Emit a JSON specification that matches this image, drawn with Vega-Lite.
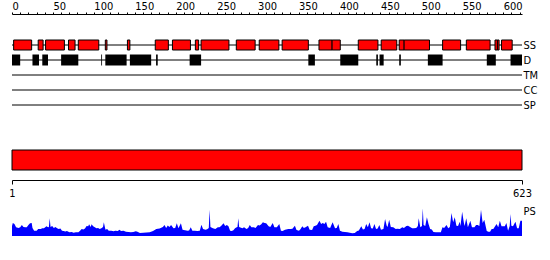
{
  "$schema": "https://vega.github.io/schema/vega-lite/v6.json",
  "background": "white",
  "padding": {"left": 8, "top": 0, "right": 0, "bottom": 0},
  "spacing": 36,
  "bounds": "flush",
  "config": {
    "view": {"stroke": null},
    "font": "DejaVu Sans Condensed, DejaVu Sans",
    "axis": {"labelColor": "black", "domainColor": "black", "tickColor": "black", "labelFont": "DejaVu Sans Condensed, DejaVu Sans", "grid": false, "title": null}
  },
  "datasets": {
    "tracks": [{"track": "SS"}, {"track": "D"}, {"track": "TM"}, {"track": "CC"}, {"track": "SP"}],
    "segments": [
      {"track": "SS", "start": 2, "end": 24}, {"track": "SS", "start": 32, "end": 38}, {"track": "SS", "start": 41, "end": 64},
      {"track": "SS", "start": 69, "end": 77}, {"track": "SS", "start": 81, "end": 106}, {"track": "SS", "start": 114, "end": 116},
      {"track": "SS", "start": 141, "end": 144}, {"track": "SS", "start": 175, "end": 191}, {"track": "SS", "start": 196, "end": 218},
      {"track": "SS", "start": 224, "end": 228}, {"track": "SS", "start": 231, "end": 265}, {"track": "SS", "start": 274, "end": 297},
      {"track": "SS", "start": 302, "end": 326}, {"track": "SS", "start": 330, "end": 362}, {"track": "SS", "start": 375, "end": 391},
      {"track": "SS", "start": 391, "end": 401}, {"track": "SS", "start": 423, "end": 447}, {"track": "SS", "start": 451, "end": 470},
      {"track": "SS", "start": 473, "end": 479}, {"track": "SS", "start": 479, "end": 510}, {"track": "SS", "start": 526, "end": 548},
      {"track": "SS", "start": 555, "end": 584}, {"track": "SS", "start": 590, "end": 593}, {"track": "SS", "start": 593, "end": 595},
      {"track": "SS", "start": 598, "end": 611},
      {"track": "D", "start": 0, "end": 10}, {"track": "D", "start": 25, "end": 33}, {"track": "D", "start": 37, "end": 44},
      {"track": "D", "start": 60, "end": 81}, {"track": "D", "start": 109, "end": 110}, {"track": "D", "start": 114, "end": 140},
      {"track": "D", "start": 144, "end": 170}, {"track": "D", "start": 176, "end": 178}, {"track": "D", "start": 217, "end": 231},
      {"track": "D", "start": 362, "end": 370}, {"track": "D", "start": 401, "end": 423}, {"track": "D", "start": 445, "end": 447},
      {"track": "D", "start": 449, "end": 454}, {"track": "D", "start": 473, "end": 475}, {"track": "D", "start": 508, "end": 526},
      {"track": "D", "start": 580, "end": 591}, {"track": "D", "start": 609, "end": 623}
    ],
    "seq": [{"start": 1, "end": 623}],
    "ps": [
      {"pos": 1, "score": 10}, {"pos": 2, "score": 13}, {"pos": 4, "score": 12}, {"pos": 6, "score": 8.7}, {"pos": 9, "score": 8},
      {"pos": 11, "score": 8.7}, {"pos": 13, "score": 11}, {"pos": 15, "score": 9}, {"pos": 17, "score": 8.7}, {"pos": 19, "score": 8.7},
      {"pos": 21, "score": 11}, {"pos": 23, "score": 12.7}, {"pos": 25, "score": 13}, {"pos": 26, "score": 8}, {"pos": 28, "score": 5.3},
      {"pos": 31, "score": 5.3}, {"pos": 33, "score": 7}, {"pos": 36, "score": 7}, {"pos": 38, "score": 7.7}, {"pos": 40, "score": 7.7},
      {"pos": 43, "score": 9.7}, {"pos": 45, "score": 8.7}, {"pos": 46, "score": 9}, {"pos": 47, "score": 17.7}, {"pos": 48, "score": 9},
      {"pos": 50, "score": 10}, {"pos": 52, "score": 8}, {"pos": 54, "score": 9}, {"pos": 56, "score": 7.7}, {"pos": 58, "score": 7},
      {"pos": 60, "score": 7.5}, {"pos": 62, "score": 5.3}, {"pos": 64, "score": 5}, {"pos": 66, "score": 4.5}, {"pos": 68, "score": 5},
      {"pos": 71, "score": 3.7}, {"pos": 74, "score": 4}, {"pos": 76, "score": 3.2}, {"pos": 79, "score": 3.7}, {"pos": 82, "score": 3.7},
      {"pos": 84, "score": 5.3}, {"pos": 86, "score": 7}, {"pos": 88, "score": 6.5}, {"pos": 90, "score": 7.5}, {"pos": 92, "score": 10},
      {"pos": 94, "score": 9.7}, {"pos": 95, "score": 11.7}, {"pos": 97, "score": 9}, {"pos": 98, "score": 11.7}, {"pos": 100, "score": 9.7},
      {"pos": 102, "score": 8.7}, {"pos": 104, "score": 7.7}, {"pos": 106, "score": 8}, {"pos": 108, "score": 7}, {"pos": 110, "score": 7.7},
      {"pos": 112, "score": 9}, {"pos": 113, "score": 13.7}, {"pos": 115, "score": 6.3}, {"pos": 117, "score": 7}, {"pos": 119, "score": 5.3},
      {"pos": 122, "score": 5.3}, {"pos": 125, "score": 4.7}, {"pos": 127, "score": 5.3}, {"pos": 130, "score": 5}, {"pos": 132, "score": 6.3},
      {"pos": 134, "score": 5}, {"pos": 137, "score": 5.3}, {"pos": 140, "score": 4.3}, {"pos": 143, "score": 4}, {"pos": 146, "score": 3.7},
      {"pos": 149, "score": 4}, {"pos": 152, "score": 4.7}, {"pos": 154, "score": 4.3}, {"pos": 157, "score": 3}, {"pos": 161, "score": 3.3},
      {"pos": 165, "score": 3.5}, {"pos": 169, "score": 3.7}, {"pos": 173, "score": 5}, {"pos": 177, "score": 7}, {"pos": 181, "score": 7.5},
      {"pos": 185, "score": 9}, {"pos": 187, "score": 11}, {"pos": 189, "score": 8}, {"pos": 191, "score": 10.5}, {"pos": 193, "score": 9},
      {"pos": 195, "score": 11}, {"pos": 198, "score": 7.7}, {"pos": 200, "score": 8}, {"pos": 202, "score": 12.7}, {"pos": 204, "score": 7.7},
      {"pos": 207, "score": 12.7}, {"pos": 209, "score": 6.3}, {"pos": 212, "score": 5.7}, {"pos": 215, "score": 5.3}, {"pos": 217, "score": 5.5},
      {"pos": 219, "score": 8.7}, {"pos": 221, "score": 5.3}, {"pos": 224, "score": 5.3}, {"pos": 227, "score": 5}, {"pos": 230, "score": 5.3},
      {"pos": 232, "score": 11.3}, {"pos": 234, "score": 7}, {"pos": 237, "score": 6.3}, {"pos": 239, "score": 6.7}, {"pos": 241, "score": 8},
      {"pos": 242, "score": 26.3}, {"pos": 243, "score": 9}, {"pos": 246, "score": 7.7}, {"pos": 249, "score": 7}, {"pos": 252, "score": 8.7},
      {"pos": 254, "score": 8.7}, {"pos": 256, "score": 10}, {"pos": 259, "score": 12.7}, {"pos": 261, "score": 10}, {"pos": 263, "score": 11},
      {"pos": 265, "score": 9.7}, {"pos": 267, "score": 5.3}, {"pos": 269, "score": 5}, {"pos": 271, "score": 5.7}, {"pos": 273, "score": 7.7},
      {"pos": 275, "score": 8.7}, {"pos": 276, "score": 9}, {"pos": 277, "score": 17.7}, {"pos": 278, "score": 9}, {"pos": 282, "score": 7.7},
      {"pos": 284, "score": 8.7}, {"pos": 287, "score": 7}, {"pos": 289, "score": 8}, {"pos": 291, "score": 11}, {"pos": 293, "score": 8.7},
      {"pos": 296, "score": 8.7}, {"pos": 298, "score": 8}, {"pos": 301, "score": 11}, {"pos": 303, "score": 10.5}, {"pos": 305, "score": 11.7},
      {"pos": 307, "score": 13.7}, {"pos": 309, "score": 13}, {"pos": 311, "score": 12.7}, {"pos": 314, "score": 9.7}, {"pos": 316, "score": 9},
      {"pos": 319, "score": 13}, {"pos": 321, "score": 8.7}, {"pos": 324, "score": 8.7}, {"pos": 327, "score": 12}, {"pos": 329, "score": 5.3},
      {"pos": 331, "score": 5}, {"pos": 334, "score": 6.3}, {"pos": 338, "score": 7}, {"pos": 341, "score": 7}, {"pos": 343, "score": 7.3},
      {"pos": 346, "score": 10.3}, {"pos": 348, "score": 6}, {"pos": 351, "score": 5.3}, {"pos": 353, "score": 7}, {"pos": 355, "score": 9.7},
      {"pos": 357, "score": 8}, {"pos": 359, "score": 8.7}, {"pos": 362, "score": 10.3}, {"pos": 364, "score": 6.3}, {"pos": 367, "score": 6},
      {"pos": 369, "score": 9.7}, {"pos": 371, "score": 10.3}, {"pos": 373, "score": 11}, {"pos": 376, "score": 15.3}, {"pos": 378, "score": 12},
      {"pos": 380, "score": 13}, {"pos": 382, "score": 12}, {"pos": 384, "score": 14.3}, {"pos": 386, "score": 8.7}, {"pos": 389, "score": 8},
      {"pos": 392, "score": 13.7}, {"pos": 395, "score": 7.7}, {"pos": 397, "score": 8}, {"pos": 399, "score": 12}, {"pos": 401, "score": 5.3},
      {"pos": 404, "score": 4.3}, {"pos": 407, "score": 4}, {"pos": 410, "score": 3.7}, {"pos": 413, "score": 3.3}, {"pos": 416, "score": 2.7},
      {"pos": 419, "score": 3}, {"pos": 422, "score": 5}, {"pos": 424, "score": 5.5}, {"pos": 427, "score": 9.7}, {"pos": 429, "score": 6.5},
      {"pos": 431, "score": 7}, {"pos": 433, "score": 12}, {"pos": 435, "score": 8.7}, {"pos": 437, "score": 13.7}, {"pos": 439, "score": 7.7},
      {"pos": 441, "score": 7.5}, {"pos": 443, "score": 12}, {"pos": 445, "score": 7}, {"pos": 447, "score": 7.5}, {"pos": 449, "score": 11},
      {"pos": 451, "score": 6.3}, {"pos": 454, "score": 7}, {"pos": 456, "score": 17}, {"pos": 458, "score": 10.3}, {"pos": 459, "score": 9},
      {"pos": 461, "score": 16.3}, {"pos": 463, "score": 9}, {"pos": 466, "score": 8.7}, {"pos": 469, "score": 7}, {"pos": 471, "score": 7.3},
      {"pos": 474, "score": 7}, {"pos": 477, "score": 8.7}, {"pos": 479, "score": 8}, {"pos": 482, "score": 10}, {"pos": 484, "score": 10.3},
      {"pos": 487, "score": 8.7}, {"pos": 489, "score": 7.7}, {"pos": 491, "score": 7.7}, {"pos": 494, "score": 8}, {"pos": 496, "score": 10},
      {"pos": 497, "score": 17.7}, {"pos": 499, "score": 8.7}, {"pos": 501, "score": 10}, {"pos": 502, "score": 27.7}, {"pos": 503, "score": 11},
      {"pos": 505, "score": 10}, {"pos": 507, "score": 18.7}, {"pos": 509, "score": 12}, {"pos": 511, "score": 7}, {"pos": 513, "score": 6.5},
      {"pos": 515, "score": 4}, {"pos": 518, "score": 3.7}, {"pos": 521, "score": 3.7}, {"pos": 524, "score": 3.7}, {"pos": 526, "score": 8.7},
      {"pos": 528, "score": 8}, {"pos": 531, "score": 11}, {"pos": 533, "score": 7.7}, {"pos": 535, "score": 9}, {"pos": 537, "score": 23},
      {"pos": 539, "score": 13.7}, {"pos": 541, "score": 18.7}, {"pos": 543, "score": 10.3}, {"pos": 545, "score": 10}, {"pos": 547, "score": 14.3},
      {"pos": 548, "score": 10}, {"pos": 550, "score": 24.3}, {"pos": 552, "score": 13.7}, {"pos": 553, "score": 10}, {"pos": 555, "score": 17.7},
      {"pos": 557, "score": 8.7}, {"pos": 560, "score": 15.3}, {"pos": 562, "score": 8.7}, {"pos": 565, "score": 8.7}, {"pos": 567, "score": 11},
      {"pos": 569, "score": 11}, {"pos": 571, "score": 10}, {"pos": 573, "score": 26.3}, {"pos": 575, "score": 13}, {"pos": 577, "score": 16.3},
      {"pos": 580, "score": 5}, {"pos": 582, "score": 4.3}, {"pos": 584, "score": 4.3}, {"pos": 586, "score": 7}, {"pos": 588, "score": 7},
      {"pos": 592, "score": 12}, {"pos": 594, "score": 8.7}, {"pos": 596, "score": 15.3}, {"pos": 598, "score": 9.7}, {"pos": 600, "score": 9.7},
      {"pos": 602, "score": 9.7}, {"pos": 604, "score": 13}, {"pos": 606, "score": 5.3}, {"pos": 608, "score": 10}, {"pos": 609, "score": 22},
      {"pos": 610, "score": 10.3}, {"pos": 612, "score": 9.7}, {"pos": 615, "score": 14.3}, {"pos": 617, "score": 7.7}, {"pos": 619, "score": 7.7},
      {"pos": 621, "score": 15.3}, {"pos": 623, "score": 15.3}
    ]
  },
  "vconcat": [
    {
      "width": 510,
      "height": 100,
      "encoding": {
        "x": {"type": "quantitative",
          "scale": {"domain": [0, 623], "nice": false, "zero": false},
          "axis": {"orient": "top", "values": [0,10,20,30,40,50,60,70,80,90,100,110,120,130,140,150,160,170,180,190,200,210,220,230,240,250,260,270,280,290,300,310,320,330,340,350,360,370,380,390,400,410,420,430,440,450,460,470,480,490,500,510,520,530,540,550,560,570,580,590,600,610,620],
            "labelExpr": "datum.value % 50 === 0 ? datum.label : ''", "labelAlign": "left", "labelDx": -1,
            "tickSize": 2, "labelPadding": 1, "labelFontSize": 11, "labelOverlap": false, "labelFlush": false}},
        "y": {"type": "nominal",
          "scale": {"type": "point", "domain": ["SS", "D", "TM", "CC", "SP"], "range": [31, 91], "padding": 0},
          "axis": {"orient": "right", "domain": false, "ticks": false, "labelPadding": 1, "labelFontSize": 11}}
      },
      "layer": [
        {
          "data": {"name": "tracks"},
          "mark": {"type": "rule", "color": "black", "strokeWidth": 1},
          "encoding": {
            "y": {"field": "track", "type": "nominal"},
            "x": {"datum": 0, "type": "quantitative"},
            "x2": {"datum": 623}
          }
        },
        {
          "data": {"name": "segments"},
          "transform": [{"filter": "datum.track === 'D'"}],
          "mark": {"type": "bar", "color": "black", "size": 11},
          "encoding": {
            "y": {"field": "track", "type": "nominal"},
            "x": {"field": "start", "type": "quantitative"},
            "x2": {"field": "end"}
          }
        },
        {
          "data": {"name": "segments"},
          "transform": [{"filter": "datum.track === 'SS'"}],
          "mark": {"type": "bar", "fill": "#ff0000", "stroke": "black", "strokeWidth": 1, "size": 10},
          "encoding": {
            "y": {"field": "track", "type": "nominal"},
            "x": {"field": "start", "type": "quantitative"},
            "x2": {"field": "end"}
          }
        }
      ]
    },
    {
      "width": 510,
      "height": 20,
      "data": {"name": "seq"},
      "mark": {"type": "rect", "fill": "#ff0000", "stroke": "black", "strokeWidth": 1},
      "encoding": {
        "x": {"field": "start", "type": "quantitative",
          "scale": {"domain": [1, 623], "nice": false, "zero": false},
          "axis": {"orient": "bottom", "values": [1, 623], "tickSize": 4, "labelPadding": 3, "offset": 10, "labelFontSize": 11, "labelFlush": false, "labelOverlap": false}},
        "x2": {"field": "end"}
      }
    },
    {
      "width": 510,
      "height": 30,
      "data": {"name": "ps"},
      "mark": {"type": "area", "color": "#0000ff", "interpolate": "linear"},
      "encoding": {
        "x": {"field": "pos", "type": "quantitative", "scale": {"domain": [1, 623], "nice": false, "zero": false}, "axis": null},
        "y": {"field": "score", "type": "quantitative", "scale": {"domain": [0, 30]},
          "axis": {"orient": "right", "values": [24.7], "labelExpr": "'PS'", "domain": false, "ticks": false, "labelPadding": 1, "labelFontSize": 11}}
      }
    }
  ]
}
